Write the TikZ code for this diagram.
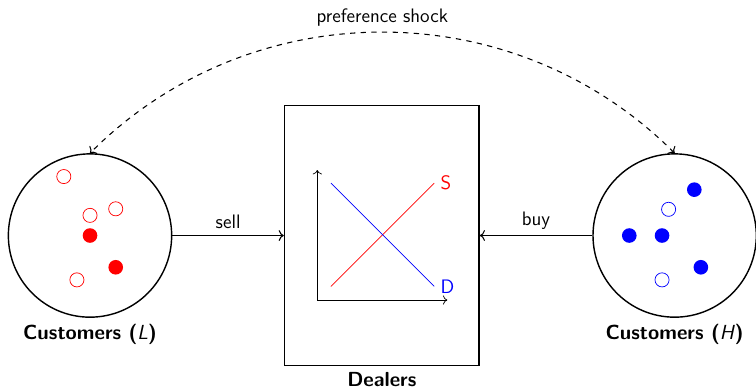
\documentclass[tikz,border=0pt]{standalone}
\usepackage{tikz}
\usetikzlibrary{arrows.meta, positioning, calc}
\renewcommand{\familydefault}{\sfdefault}

\begin{document}
\begin{tikzpicture}[
  every node/.append style={font=\fontsize{11}{13}\selectfont},
  crowd/.style={circle, draw, thick, minimum size=3.24cm, inner sep=0pt},
  market/.style={rectangle, draw, thick, minimum width=3.86cm, minimum height=5.16cm},
  tag/.style={font=\fontsize{11.5}{14}\selectfont\bfseries},
  opendot/.style={circle, draw, inner sep=0pt, minimum size=2.8mm},
  fulldot/.style={circle, fill, inner sep=0pt, minimum size=2.9mm},
  arr/.style={->, semithick}
]
  \useasboundingbox (-1.786,-3.046) rectangle (13.214,4.673);

  % customer pools and dealers
  \node[crowd, label={[tag]below:Customers (\textmd{\textit{L}})}] (low) at (0,0) {};
  \node[crowd, label={[tag]below:Customers (\textmd{\textit{H}})}] (high) at (11.6,0) {};
  \node[market, label={[tag]below:Dealers}] (dealers) at (5.79,0) {};

  % low-type customers
  \node[opendot, red] (l1) at (-0.52,1.17) {};
  \node[opendot, red] (l2) at (0,0.4) {};
  \node[opendot, red] (l3) at (0.51,0.53) {};
  \node[fulldot, red] (l4) at (0,0) {};
  \node[fulldot, red] (l5) at (0.51,-0.63) {};
  \node[opendot, red] (l6) at (-0.26,-0.88) {};

  % high-type customers
  \node[fulldot, blue] (h1) at (11.99,0.91) {};
  \node[opendot, blue] (h2) at (11.48,0.52) {};
  \node[fulldot, blue] (h3) at (10.7,0) {};
  \node[fulldot, blue] (h4) at (11.35,0) {};
  \node[fulldot, blue] (h5) at (12.12,-0.63) {};
  \node[opendot, blue] (h6) at (11.35,-0.88) {};

  % supply and demand
  \coordinate (orig) at (4.51,-1.28);
  \draw[->] (orig) -- ++(0,2.58);
  \draw[->] (orig) -- ++(2.58,0);
  \draw[red] ($(orig)+(0.27,0.27)$) -- ($(orig)+(2.32,2.32)$) node[right] {S};
  \draw[blue] ($(orig)+(0.27,2.32)$) -- ($(orig)+(2.32,0.27)$) node[right] {D};

  \draw[arr] (low) -- node[above] {sell} (dealers);
  \draw[arr] (high) -- node[above] {buy} (dealers);
  \draw[arr, dashed, <->] (high.north) to[out=135, in=45] node[above] {preference shock} (low.north);
\end{tikzpicture}
\end{document}
